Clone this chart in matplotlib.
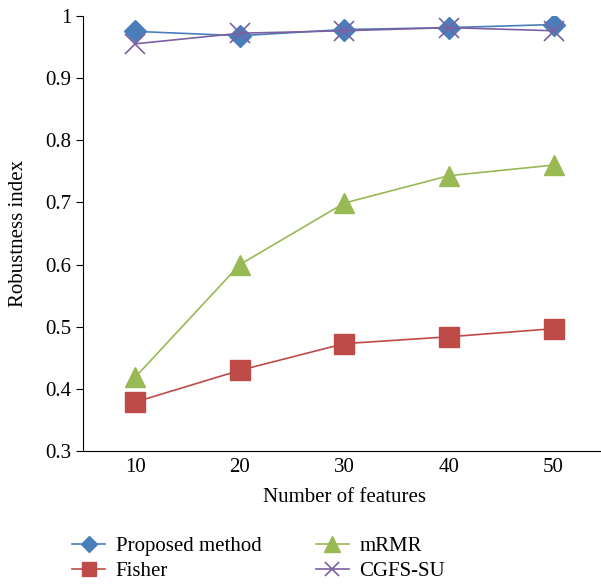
import matplotlib.pyplot as plt

n_features = [10, 20, 30, 40, 50]
proposed = [0.975, 0.968, 0.978, 0.981, 0.986]
fisher = [0.379, 0.430, 0.473, 0.484, 0.497]
mrmr = [0.419, 0.600, 0.699, 0.743, 0.760]
cgfs_su = [0.955, 0.972, 0.976, 0.981, 0.976]

plt.rcParams['font.family'] = ['Liberation Serif', 'DejaVu Serif']

fig = plt.figure(figsize=(6.01, 5.86), dpi=100)
ax = fig.add_axes([0.138, 0.23, 0.87, 0.743])

ax.plot(n_features, mrmr, color='#98b954', marker='^', markersize=15, lw=1.2, label='mRMR')
ax.plot(n_features, fisher, color='#be4b48', marker='s', markersize=14, lw=1.2, label='Fisher')
ax.plot(n_features, proposed, color='#4a7ebb', marker='D', markersize=11, lw=1.2, label='Proposed method')
ax.plot(n_features, cgfs_su, color='#7d60a0', marker='x', markersize=14, mew=1.2, lw=1.2, label='CGFS-SU')

ax.set_xlim(5, 55)
ax.set_ylim(0.3, 1.0)
ax.set_xticks(n_features)
ax.set_yticks([0.3, 0.4, 0.5, 0.6, 0.7, 0.8, 0.9, 1.0])
ax.set_yticklabels(['0.3', '0.4', '0.5', '0.6', '0.7', '0.8', '0.9', '1'])
ax.spines['top'].set_visible(False)
ax.spines['right'].set_visible(False)
ax.tick_params(axis='x', length=0, labelsize=15, pad=5)
ax.tick_params(axis='y', length=5, labelsize=15, direction='out')
ax.set_xlabel('Number of features', fontsize=15, labelpad=8)
ax.set_ylabel('Robustness index', fontsize=15, labelpad=12)

handles, labels = ax.get_legend_handles_labels()
order = [2, 1, 0, 3]
fig.legend([handles[i] for i in order], [labels[i] for i in order],
           loc='lower left', bbox_to_anchor=(0.12, 0.008), ncol=2, frameon=False,
           fontsize=15, handlelength=1.6, handletextpad=0.5, columnspacing=2.6,
           labelspacing=0.28, borderpad=0, borderaxespad=0, markerscale=0.75)

fig.savefig('out.png', dpi=100)
